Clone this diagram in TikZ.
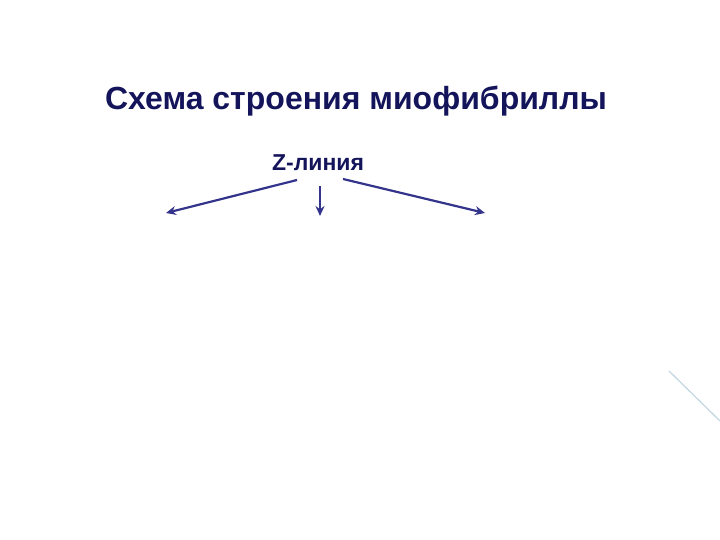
\documentclass[tikz,border=0pt]{standalone}
\usepackage{fontspec}
\setmainfont{Liberation Sans}
\usetikzlibrary{arrows.meta}
\definecolor{titlecol}{HTML}{14145A}
\definecolor{arrcol}{HTML}{34348C}
\definecolor{deco}{HTML}{C4D8E4}
\tikzset{
  px/.style={x=1pt,y=-1pt},
  titletext/.style={font=\bfseries\fontsize{32}{36}\selectfont, text=titlecol, inner sep=0pt},
  labeltext/.style={font=\bfseries\fontsize{23}{26}\selectfont, text=titlecol, inner sep=0pt},
  conn/.style={draw=arrcol, line width=2.2pt, -{Stealth[length=10pt,width=9pt]}},
}
\begin{document}
\begin{tikzpicture}[px]
\useasboundingbox (0,0) rectangle (720,540);
\node[titletext, anchor=base] (title) at (356,110) {Схема строения миофибриллы};
\node[labeltext, anchor=base] (zline) at (318,171) {Z-линия};
\coordinate (ls) at (297,180);
\coordinate (le) at (166,213);
\coordinate (ms) at (320,186);
\coordinate (me) at (320,216);
\coordinate (rs) at (343,179);
\coordinate (re) at (485,213);
\draw[conn] (ls) -- (le);
\draw[conn] (ms) -- (me);
\draw[conn] (rs) -- (re);
\coordinate (d1) at (669,371);
\coordinate (d2) at (720,421);
\draw[deco, line width=1.3pt] (d1) -- (d2);
\end{tikzpicture}
\end{document}
